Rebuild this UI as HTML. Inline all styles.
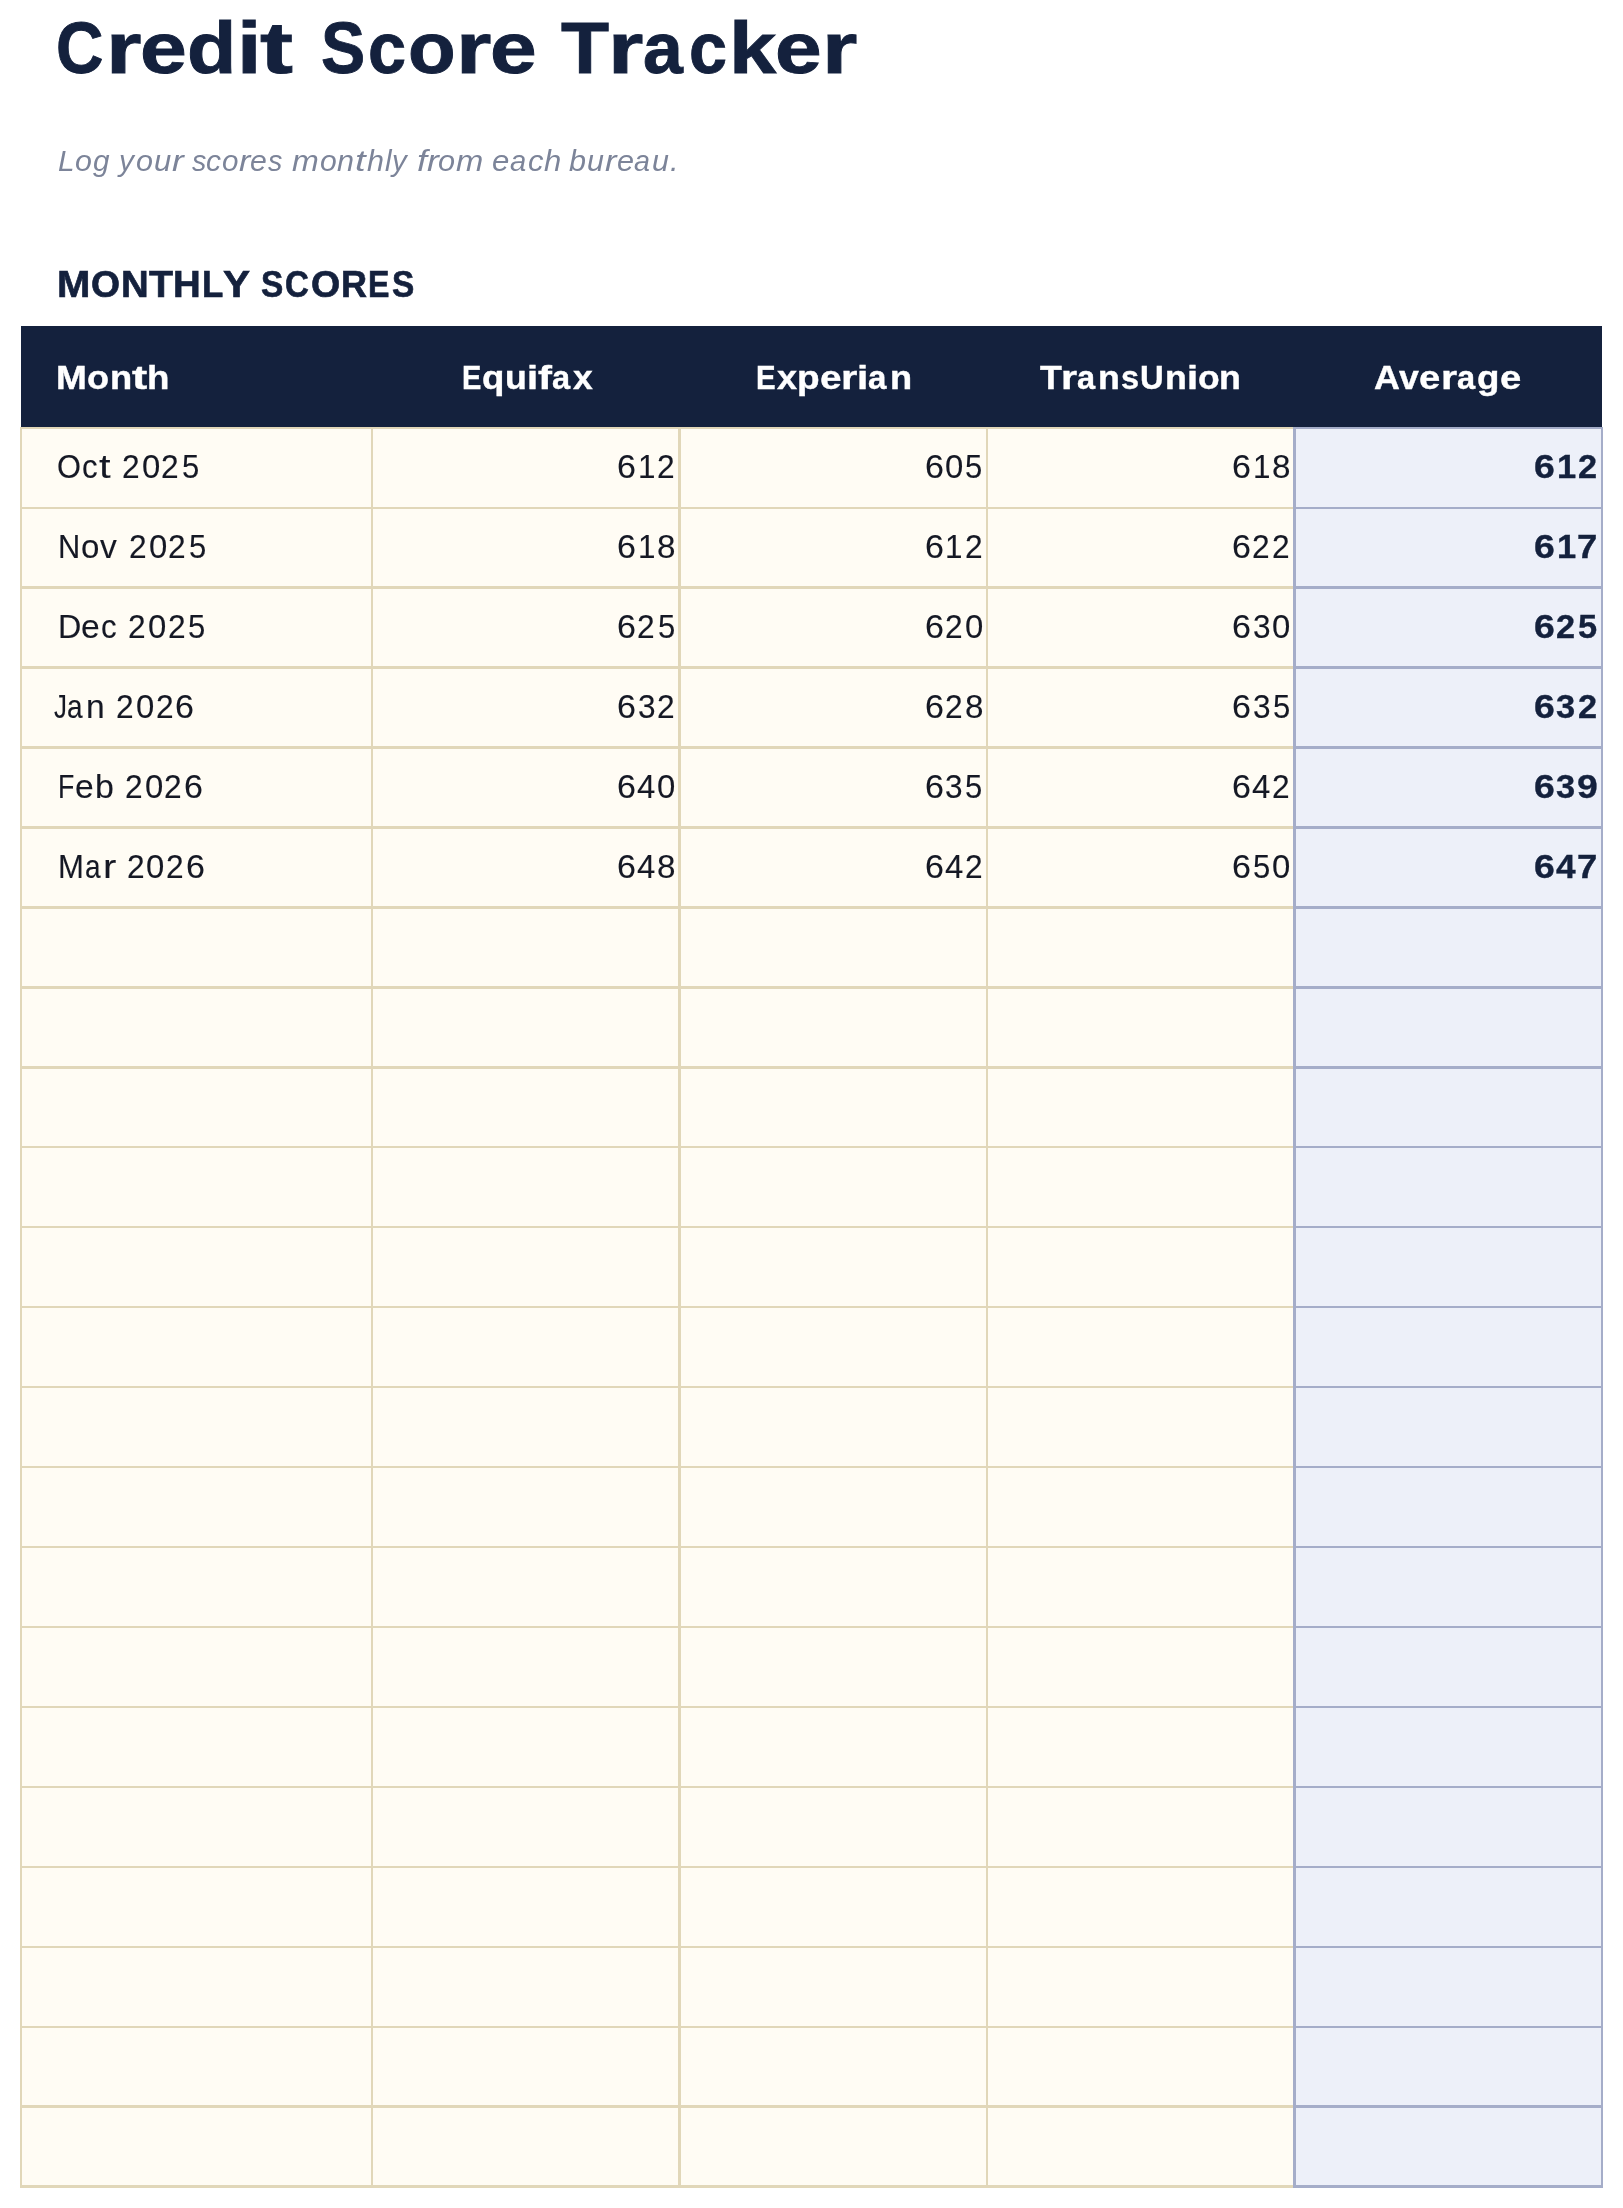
<!DOCTYPE html>
<html lang="en">
<head>
<meta charset="utf-8">
<title>Credit Score Tracker</title>
<style>
html,body{margin:0;padding:0;background:#fff;}
body{width:1623px;height:2208px;position:relative;overflow:hidden;font-family:"Liberation Sans", sans-serif;color:#151824;}
.t{position:absolute;white-space:nowrap;line-height:1;margin:0;padding:0;transform-origin:0 0;font-weight:normal;}
.t{word-spacing:-0.27783em;}
.g{display:inline-block;width:0;transform-origin:0 0;white-space:nowrap;}
.b{font-weight:bold;}
.i{font-style:italic;}
.r{transform-origin:100% 0;text-align:right;}
.c{transform-origin:50% 0;text-align:center;}
.box{position:absolute;}
.hdr{left:21px;top:326px;width:1581px;height:101px;background:#14213d;}
.cream{left:20px;top:427px;width:1275px;height:1760px;background:#fffcf4;}
.avg{left:1294px;top:427px;width:308px;height:1760px;background:#edf0f9;}
.lb{background:#e1d7b9;}
.la{background:#a5adc9;}
main{position:absolute;left:0;top:0;width:1623px;height:2208px;will-change:transform;}
</style>
</head>
<body>
<main>
<div class="box cream"></div>
<div class="box avg"></div>
<div class="box hdr"></div>
<div class="box lb" style="left:20px;top:427px;width:1273px;height:2px"></div>
<div class="box la" style="left:1293px;top:427px;width:310px;height:2px"></div>
<div class="box lb" style="left:20px;top:507px;width:1273px;height:2px"></div>
<div class="box la" style="left:1293px;top:507px;width:310px;height:2px"></div>
<div class="box lb" style="left:20px;top:586px;width:1273px;height:3px"></div>
<div class="box la" style="left:1293px;top:586px;width:310px;height:3px"></div>
<div class="box lb" style="left:20px;top:666px;width:1273px;height:3px"></div>
<div class="box la" style="left:1293px;top:666px;width:310px;height:3px"></div>
<div class="box lb" style="left:20px;top:746px;width:1273px;height:3px"></div>
<div class="box la" style="left:1293px;top:746px;width:310px;height:3px"></div>
<div class="box lb" style="left:20px;top:826px;width:1273px;height:3px"></div>
<div class="box la" style="left:1293px;top:826px;width:310px;height:3px"></div>
<div class="box lb" style="left:20px;top:906px;width:1273px;height:3px"></div>
<div class="box la" style="left:1293px;top:906px;width:310px;height:3px"></div>
<div class="box lb" style="left:20px;top:986px;width:1273px;height:3px"></div>
<div class="box la" style="left:1293px;top:986px;width:310px;height:3px"></div>
<div class="box lb" style="left:20px;top:1066px;width:1273px;height:3px"></div>
<div class="box la" style="left:1293px;top:1066px;width:310px;height:3px"></div>
<div class="box lb" style="left:20px;top:1146px;width:1273px;height:2px"></div>
<div class="box la" style="left:1293px;top:1146px;width:310px;height:2px"></div>
<div class="box lb" style="left:20px;top:1226px;width:1273px;height:2px"></div>
<div class="box la" style="left:1293px;top:1226px;width:310px;height:2px"></div>
<div class="box lb" style="left:20px;top:1306px;width:1273px;height:2px"></div>
<div class="box la" style="left:1293px;top:1306px;width:310px;height:2px"></div>
<div class="box lb" style="left:20px;top:1386px;width:1273px;height:2px"></div>
<div class="box la" style="left:1293px;top:1386px;width:310px;height:2px"></div>
<div class="box lb" style="left:20px;top:1466px;width:1273px;height:2px"></div>
<div class="box la" style="left:1293px;top:1466px;width:310px;height:2px"></div>
<div class="box lb" style="left:20px;top:1546px;width:1273px;height:2px"></div>
<div class="box la" style="left:1293px;top:1546px;width:310px;height:2px"></div>
<div class="box lb" style="left:20px;top:1626px;width:1273px;height:2px"></div>
<div class="box la" style="left:1293px;top:1626px;width:310px;height:2px"></div>
<div class="box lb" style="left:20px;top:1706px;width:1273px;height:2px"></div>
<div class="box la" style="left:1293px;top:1706px;width:310px;height:2px"></div>
<div class="box lb" style="left:20px;top:1786px;width:1273px;height:2px"></div>
<div class="box la" style="left:1293px;top:1786px;width:310px;height:2px"></div>
<div class="box lb" style="left:20px;top:1866px;width:1273px;height:2px"></div>
<div class="box la" style="left:1293px;top:1866px;width:310px;height:2px"></div>
<div class="box lb" style="left:20px;top:1946px;width:1273px;height:2px"></div>
<div class="box la" style="left:1293px;top:1946px;width:310px;height:2px"></div>
<div class="box lb" style="left:20px;top:2026px;width:1273px;height:2px"></div>
<div class="box la" style="left:1293px;top:2026px;width:310px;height:2px"></div>
<div class="box lb" style="left:20px;top:2105px;width:1273px;height:3px"></div>
<div class="box la" style="left:1293px;top:2105px;width:310px;height:3px"></div>
<div class="box lb" style="left:20px;top:2185px;width:1273px;height:3px"></div>
<div class="box la" style="left:1293px;top:2185px;width:310px;height:3px"></div>
<div class="box lb" style="left:20px;top:427px;width:2px;height:1761px"></div>
<div class="box lb" style="left:371px;top:427px;width:2px;height:1761px"></div>
<div class="box lb" style="left:678px;top:427px;width:3px;height:1761px"></div>
<div class="box lb" style="left:986px;top:427px;width:2px;height:1761px"></div>
<div class="box la" style="left:1293px;top:427px;width:3px;height:1761px"></div>
<div class="box la" style="left:1601px;top:427px;width:2px;height:1761px"></div>
<h1 class="t b" aria-label="Credit Score Tracker" style="left:0;top:12.04px;font-size:72.60px;color:#14213d;width:1623px;height:73px;-webkit-text-stroke:0.90px #14213d;"><span class="g" style="margin-left:56.328125px;transform:scaleX(0.9043)">C</span><span class="g" style="margin-left:49.859375px;transform:scaleX(1.2554)">r</span><span class="g" style="margin-left:33.96875px;transform:scaleX(1.1594)">e</span><span class="g" style="margin-left:47.046875px;transform:scaleX(1.1110)">d</span><span class="g" style="margin-left:49.421875px;transform:scaleX(1.2121)">i</span><span class="g" style="margin-left:23.765625px;transform:scaleX(1.3649)">t</span> <span class="g" style="margin-left:60.375px;transform:scaleX(0.9129)">S</span><span class="g" style="margin-left:46.9375px;transform:scaleX(0.9422)">c</span><span class="g" style="margin-left:40.546875px;transform:scaleX(1.0740)">o</span><span class="g" style="margin-left:47.359375px;transform:scaleX(1.2525)">r</span><span class="g" style="margin-left:33.890625px;transform:scaleX(1.1567)">e</span> <span class="g" style="margin-left:71.03125px;transform:scaleX(1.0840)">T</span><span class="g" style="margin-left:47.421875px;transform:scaleX(1.2515)">r</span><span class="g" style="margin-left:35.0625px;transform:scaleX(0.9867)">a</span><span class="g" style="margin-left:45.96875px;transform:scaleX(0.9414)">c</span><span class="g" style="margin-left:40.484375px;transform:scaleX(1.1702)">k</span><span class="g" style="margin-left:45.671875px;transform:scaleX(1.1558)">e</span><span class="g" style="margin-left:46.9375px;transform:scaleX(1.2515)">r</span></h1>
<p class="t i" aria-label="Log your scores monthly from each bureau." style="left:0;top:146.33px;font-size:29.50px;color:#7c8499;width:1623px;height:30px;"><span class="g" style="margin-left:58.484375px;transform:scaleX(1.0052)">L</span><span class="g" style="margin-left:16.453125px;transform:scaleX(1.0296)">o</span><span class="g" style="margin-left:18.109375px;transform:scaleX(1.0062)">g</span> <span class="g" style="margin-left:25.96875px;transform:scaleX(1.0102)">y</span><span class="g" style="margin-left:17.390625px;transform:scaleX(1.0338)">o</span><span class="g" style="margin-left:17.671875px;transform:scaleX(1.0503)">u</span><span class="g" style="margin-left:18.34375px;transform:scaleX(1.1933)">r</span> <span class="g" style="margin-left:19.421875px;transform:scaleX(0.9700)">s</span><span class="g" style="margin-left:14.59375px;transform:scaleX(1.0188)">c</span><span class="g" style="margin-left:15.390625px;transform:scaleX(1.0021)">o</span><span class="g" style="margin-left:17.1875px;transform:scaleX(1.1566)">r</span><span class="g" style="margin-left:11.34375px;transform:scaleX(1.0242)">e</span><span class="g" style="margin-left:17.1875px;transform:scaleX(0.9700)">s</span> <span class="g" style="margin-left:24.703125px;transform:scaleX(1.0890)">m</span><span class="g" style="margin-left:27.53125px;transform:scaleX(1.0191)">o</span><span class="g" style="margin-left:17.5625px;transform:scaleX(1.0344)">n</span><span class="g" style="margin-left:17.609375px;transform:scaleX(1.2946)">t</span><span class="g" style="margin-left:11.546875px;transform:scaleX(1.0355)">h</span><span class="g" style="margin-left:18.03125px;transform:scaleX(1.0012)">l</span><span class="g" style="margin-left:7.375px;transform:scaleX(0.9958)">y</span> <span class="g" style="margin-left:24.796875px;transform:scaleX(1.2190)">f</span><span class="g" style="margin-left:9.875px;transform:scaleX(1.1988)">r</span><span class="g" style="margin-left:11.796875px;transform:scaleX(1.0386)">o</span><span class="g" style="margin-left:17.875px;transform:scaleX(1.1097)">m</span> <span class="g" style="margin-left:35.875px;transform:scaleX(1.0569)">e</span><span class="g" style="margin-left:18.015625px;transform:scaleX(0.9892)">a</span><span class="g" style="margin-left:17.4375px;transform:scaleX(1.0514)">c</span><span class="g" style="margin-left:16.046875px;transform:scaleX(1.0507)">h</span> <span class="g" style="margin-left:25.75px;transform:scaleX(1.0350)">b</span><span class="g" style="margin-left:17.75px;transform:scaleX(1.0326)">u</span><span class="g" style="margin-left:18.03125px;transform:scaleX(1.1733)">r</span><span class="g" style="margin-left:11.5px;transform:scaleX(1.0389)">e</span><span class="g" style="margin-left:17.703125px;transform:scaleX(0.9724)">a</span><span class="g" style="margin-left:17.1875px;transform:scaleX(1.0326)">u</span><span class="g" style="margin-left:18.0625px;transform:scaleX(1.0516)">.</span></p>
<h2 class="t b" aria-label="MONTHLY SCORES" style="left:0;top:267.19px;font-size:36.40px;color:#14213d;width:1623px;height:36px;-webkit-text-stroke:0.65px #14213d;"><span class="g" style="margin-left:56.90625px;transform:scaleX(1.1006)">M</span><span class="g" style="margin-left:34.0625px;transform:scaleX(1.0252)">O</span><span class="g" style="margin-left:29.796875px;transform:scaleX(1.0550)">N</span><span class="g" style="margin-left:28.046875px;transform:scaleX(1.0830)">T</span><span class="g" style="margin-left:24.453125px;transform:scaleX(1.0550)">H</span><span class="g" style="margin-left:29.171875px;transform:scaleX(0.9577)">L</span><span class="g" style="margin-left:20.46875px;transform:scaleX(1.1141)">Y</span> <span class="g" style="margin-left:38.4375px;transform:scaleX(0.9178)">S</span><span class="g" style="margin-left:23.890625px;transform:scaleX(0.9071)">C</span><span class="g" style="margin-left:25.34375px;transform:scaleX(1.0324)">O</span><span class="g" style="margin-left:30.1875px;transform:scaleX(0.9906)">R</span><span class="g" style="margin-left:27.0625px;transform:scaleX(0.8828)">E</span><span class="g" style="margin-left:24.265625px;transform:scaleX(0.9178)">S</span></h2>
<div class="t b" aria-label="Month" style="left:0;top:361.47px;font-size:33.00px;color:#fff;width:1623px;height:33px;-webkit-text-stroke:0.40px #fff;"><span class="g" style="margin-left:56.015625px;transform:scaleX(1.1219)">M</span><span class="g" style="margin-left:31.28125px;transform:scaleX(1.0930)">o</span><span class="g" style="margin-left:22.265625px;transform:scaleX(1.1018)">n</span><span class="g" style="margin-left:22.3125px;transform:scaleX(1.3858)">t</span><span class="g" style="margin-left:15.53125px;transform:scaleX(1.1110)">h</span></div>
<div class="t b" aria-label="Equifax" style="left:0;top:361.47px;font-size:33.00px;color:#fff;width:1623px;height:33px;-webkit-text-stroke:0.40px #fff;"><span class="g" style="margin-left:461.84375px;transform:scaleX(0.8769)">E</span><span class="g" style="margin-left:20.359375px;transform:scaleX(1.1092)">q</span><span class="g" style="margin-left:22.765625px;transform:scaleX(1.0814)">u</span><span class="g" style="margin-left:21.921875px;transform:scaleX(1.2077)">i</span><span class="g" style="margin-left:10.78125px;transform:scaleX(1.2692)">f</span><span class="g" style="margin-left:14.140625px;transform:scaleX(0.9861)">a</span><span class="g" style="margin-left:21px;transform:scaleX(1.0765)">x</span></div>
<div class="t b" aria-label="Experian" style="left:0;top:361.47px;font-size:33.00px;color:#fff;width:1623px;height:33px;-webkit-text-stroke:0.40px #fff;"><span class="g" style="margin-left:755.640625px;transform:scaleX(0.8902)">E</span><span class="g" style="margin-left:21.015625px;transform:scaleX(1.0929)">x</span><span class="g" style="margin-left:20.515625px;transform:scaleX(1.1226)">p</span><span class="g" style="margin-left:22.375px;transform:scaleX(1.1726)">e</span><span class="g" style="margin-left:21.65625px;transform:scaleX(1.2698)">r</span><span class="g" style="margin-left:15.625px;transform:scaleX(1.2260)">i</span><span class="g" style="margin-left:11.4375px;transform:scaleX(1.0011)">a</span><span class="g" style="margin-left:21.359375px;transform:scaleX(1.0976)">n</span></div>
<div class="t b" aria-label="TransUnion" style="left:0;top:361.47px;font-size:33.00px;color:#fff;width:1623px;height:33px;-webkit-text-stroke:0.40px #fff;"><span class="g" style="margin-left:1039.828125px;transform:scaleX(1.0837)">T</span><span class="g" style="margin-left:21.546875px;transform:scaleX(1.2512)">r</span><span class="g" style="margin-left:15.921875px;transform:scaleX(0.9864)">a</span><span class="g" style="margin-left:21.0625px;transform:scaleX(1.0815)">n</span><span class="g" style="margin-left:22.5px;transform:scaleX(0.9815)">s</span><span class="g" style="margin-left:19.078125px;transform:scaleX(0.9933)">U</span><span class="g" style="margin-left:24.828125px;transform:scaleX(1.0815)">n</span><span class="g" style="margin-left:21.890625px;transform:scaleX(1.2080)">i</span><span class="g" style="margin-left:10.859375px;transform:scaleX(1.0729)">o</span><span class="g" style="margin-left:21.859375px;transform:scaleX(1.0815)">n</span></div>
<div class="t b" aria-label="Average" style="left:0;top:361.47px;font-size:33.00px;color:#fff;width:1623px;height:33px;-webkit-text-stroke:0.40px #fff;"><span class="g" style="margin-left:1373.859375px;transform:scaleX(1.0838)">A</span><span class="g" style="margin-left:25.390625px;transform:scaleX(1.0797)">v</span><span class="g" style="margin-left:19.953125px;transform:scaleX(1.1572)">e</span><span class="g" style="margin-left:21.359375px;transform:scaleX(1.2530)">r</span><span class="g" style="margin-left:15.953125px;transform:scaleX(0.9879)">a</span><span class="g" style="margin-left:20.703125px;transform:scaleX(1.1111)">g</span><span class="g" style="margin-left:22.421875px;transform:scaleX(1.1572)">e</span></div>
<div class="t " aria-label="Oct 2025" style="left:0;top:449.90px;font-size:33.20px;color:#151824;width:1623px;height:33px;-webkit-text-stroke:0.12px #151824;"><span class="g" style="margin-left:57.390625px;transform:scaleX(0.9288)">O</span><span class="g" style="margin-left:24.65625px;transform:scaleX(0.9419)">c</span><span class="g" style="margin-left:16.953125px;transform:scaleX(1.2555)">t</span> <span class="g" style="margin-left:22.640625px;transform:scaleX(0.9552)">2</span><span class="g" style="margin-left:19.921875px;transform:scaleX(0.9908)">0</span><span class="g" style="margin-left:19.796875px;transform:scaleX(0.9552)">2</span><span class="g" style="margin-left:20.3125px;transform:scaleX(0.9348)">5</span></div>
<div class="t " aria-label="612" style="left:0;top:449.90px;font-size:33.20px;color:#151824;width:1623px;height:33px;-webkit-text-stroke:0.12px #151824;"><span class="g" style="margin-left:617.1875px;transform:scaleX(1.0252)">6</span><span class="g" style="margin-left:20.4375px;transform:scaleX(0.9463)">1</span><span class="g" style="margin-left:19.5px;transform:scaleX(0.9552)">2</span></div>
<div class="t " aria-label="605" style="left:0;top:449.90px;font-size:33.20px;color:#151824;width:1623px;height:33px;-webkit-text-stroke:0.12px #151824;"><span class="g" style="margin-left:924.796875px;transform:scaleX(1.0252)">6</span><span class="g" style="margin-left:20.15625px;transform:scaleX(0.9908)">0</span><span class="g" style="margin-left:20.25px;transform:scaleX(0.9348)">5</span></div>
<div class="t " aria-label="618" style="left:0;top:449.90px;font-size:33.20px;color:#151824;width:1623px;height:33px;-webkit-text-stroke:0.12px #151824;"><span class="g" style="margin-left:1232.1875px;transform:scaleX(1.0252)">6</span><span class="g" style="margin-left:20.4375px;transform:scaleX(0.9463)">1</span><span class="g" style="margin-left:19.5px;transform:scaleX(1.0007)">8</span></div>
<div class="t b" aria-label="612" style="left:0;top:449.90px;font-size:33.20px;color:#14213d;width:1623px;height:33px;-webkit-text-stroke:0.35px #14213d;"><span class="g" style="margin-left:1534.03125px;transform:scaleX(1.1271)">6</span><span class="g" style="margin-left:22.5px;transform:scaleX(1.0376)">1</span><span class="g" style="margin-left:21.625px;transform:scaleX(1.0333)">2</span></div>
<div class="t " aria-label="Nov 2025" style="left:0;top:529.90px;font-size:33.20px;color:#151824;width:1623px;height:33px;-webkit-text-stroke:0.12px #151824;"><span class="g" style="margin-left:57.625px;transform:scaleX(0.9280)">N</span><span class="g" style="margin-left:23.140625px;transform:scaleX(0.9984)">o</span><span class="g" style="margin-left:19.578125px;transform:scaleX(1.0130)">v</span> <span class="g" style="margin-left:28.25px;transform:scaleX(0.9552)">2</span><span class="g" style="margin-left:19.921875px;transform:scaleX(0.9908)">0</span><span class="g" style="margin-left:19.78125px;transform:scaleX(0.9552)">2</span><span class="g" style="margin-left:20.3125px;transform:scaleX(0.9348)">5</span></div>
<div class="t " aria-label="618" style="left:0;top:529.90px;font-size:33.20px;color:#151824;width:1623px;height:33px;-webkit-text-stroke:0.12px #151824;"><span class="g" style="margin-left:617.1875px;transform:scaleX(1.0252)">6</span><span class="g" style="margin-left:20.4375px;transform:scaleX(0.9463)">1</span><span class="g" style="margin-left:19.5px;transform:scaleX(1.0007)">8</span></div>
<div class="t " aria-label="612" style="left:0;top:529.90px;font-size:33.20px;color:#151824;width:1623px;height:33px;-webkit-text-stroke:0.12px #151824;"><span class="g" style="margin-left:924.796875px;transform:scaleX(1.0252)">6</span><span class="g" style="margin-left:20.421875px;transform:scaleX(0.9463)">1</span><span class="g" style="margin-left:19.515625px;transform:scaleX(0.9552)">2</span></div>
<div class="t " aria-label="622" style="left:0;top:529.90px;font-size:33.20px;color:#151824;width:1623px;height:33px;-webkit-text-stroke:0.12px #151824;"><span class="g" style="margin-left:1232.1875px;transform:scaleX(1.0252)">6</span><span class="g" style="margin-left:20.09375px;transform:scaleX(0.9552)">2</span><span class="g" style="margin-left:19.84375px;transform:scaleX(0.9552)">2</span></div>
<div class="t b" aria-label="617" style="left:0;top:529.90px;font-size:33.20px;color:#14213d;width:1623px;height:33px;-webkit-text-stroke:0.35px #14213d;"><span class="g" style="margin-left:1534.03125px;transform:scaleX(1.1271)">6</span><span class="g" style="margin-left:22.5px;transform:scaleX(1.0376)">1</span><span class="g" style="margin-left:20.875px;transform:scaleX(1.0997)">7</span></div>
<div class="t " aria-label="Dec 2025" style="left:0;top:609.90px;font-size:33.20px;color:#151824;width:1623px;height:33px;-webkit-text-stroke:0.12px #151824;"><span class="g" style="margin-left:57.5px;transform:scaleX(0.9723)">D</span><span class="g" style="margin-left:23.921875px;transform:scaleX(1.0147)">e</span><span class="g" style="margin-left:19.296875px;transform:scaleX(0.9419)">c</span> <span class="g" style="margin-left:27.359375px;transform:scaleX(0.9552)">2</span><span class="g" style="margin-left:19.921875px;transform:scaleX(0.9908)">0</span><span class="g" style="margin-left:19.765625px;transform:scaleX(0.9552)">2</span><span class="g" style="margin-left:20.328125px;transform:scaleX(0.9348)">5</span></div>
<div class="t " aria-label="625" style="left:0;top:609.90px;font-size:33.20px;color:#151824;width:1623px;height:33px;-webkit-text-stroke:0.12px #151824;"><span class="g" style="margin-left:617.1875px;transform:scaleX(1.0252)">6</span><span class="g" style="margin-left:20.09375px;transform:scaleX(0.9552)">2</span><span class="g" style="margin-left:20.328125px;transform:scaleX(0.9348)">5</span></div>
<div class="t " aria-label="620" style="left:0;top:609.90px;font-size:33.20px;color:#151824;width:1623px;height:33px;-webkit-text-stroke:0.12px #151824;"><span class="g" style="margin-left:924.796875px;transform:scaleX(1.0252)">6</span><span class="g" style="margin-left:20.078125px;transform:scaleX(0.9552)">2</span><span class="g" style="margin-left:19.921875px;transform:scaleX(0.9908)">0</span></div>
<div class="t " aria-label="630" style="left:0;top:609.90px;font-size:33.20px;color:#151824;width:1623px;height:33px;-webkit-text-stroke:0.12px #151824;"><span class="g" style="margin-left:1232.1875px;transform:scaleX(1.0252)">6</span><span class="g" style="margin-left:20.578125px;transform:scaleX(0.9516)">3</span><span class="g" style="margin-left:19.4375px;transform:scaleX(0.9908)">0</span></div>
<div class="t b" aria-label="625" style="left:0;top:609.90px;font-size:33.20px;color:#14213d;width:1623px;height:33px;-webkit-text-stroke:0.35px #14213d;"><span class="g" style="margin-left:1534.03125px;transform:scaleX(1.1271)">6</span><span class="g" style="margin-left:22.421875px;transform:scaleX(1.0333)">2</span><span class="g" style="margin-left:21.78125px;transform:scaleX(1.0360)">5</span></div>
<div class="t " aria-label="Jan 2026" style="left:0;top:689.90px;font-size:33.20px;color:#151824;width:1623px;height:33px;-webkit-text-stroke:0.12px #151824;"><span class="g" style="margin-left:53.828125px;transform:scaleX(0.7800)">J</span><span class="g" style="margin-left:13.171875px;transform:scaleX(0.8439)">a</span><span class="g" style="margin-left:19.015625px;transform:scaleX(1.0126)">n</span> <span class="g" style="margin-left:29.78125px;transform:scaleX(0.9552)">2</span><span class="g" style="margin-left:19.921875px;transform:scaleX(0.9908)">0</span><span class="g" style="margin-left:19.78125px;transform:scaleX(0.9552)">2</span><span class="g" style="margin-left:19.609375px;transform:scaleX(1.0252)">6</span></div>
<div class="t " aria-label="632" style="left:0;top:689.90px;font-size:33.20px;color:#151824;width:1623px;height:33px;-webkit-text-stroke:0.12px #151824;"><span class="g" style="margin-left:617.1875px;transform:scaleX(1.0252)">6</span><span class="g" style="margin-left:20.578125px;transform:scaleX(0.9516)">3</span><span class="g" style="margin-left:19.359375px;transform:scaleX(0.9552)">2</span></div>
<div class="t " aria-label="628" style="left:0;top:689.90px;font-size:33.20px;color:#151824;width:1623px;height:33px;-webkit-text-stroke:0.12px #151824;"><span class="g" style="margin-left:924.796875px;transform:scaleX(1.0252)">6</span><span class="g" style="margin-left:20.078125px;transform:scaleX(0.9552)">2</span><span class="g" style="margin-left:19.84375px;transform:scaleX(1.0007)">8</span></div>
<div class="t " aria-label="635" style="left:0;top:689.90px;font-size:33.20px;color:#151824;width:1623px;height:33px;-webkit-text-stroke:0.12px #151824;"><span class="g" style="margin-left:1232.1875px;transform:scaleX(1.0252)">6</span><span class="g" style="margin-left:20.578125px;transform:scaleX(0.9516)">3</span><span class="g" style="margin-left:19.84375px;transform:scaleX(0.9348)">5</span></div>
<div class="t b" aria-label="632" style="left:0;top:689.90px;font-size:33.20px;color:#14213d;width:1623px;height:33px;-webkit-text-stroke:0.35px #14213d;"><span class="g" style="margin-left:1534.03125px;transform:scaleX(1.1271)">6</span><span class="g" style="margin-left:22.4375px;transform:scaleX(1.0379)">3</span><span class="g" style="margin-left:21.6875px;transform:scaleX(1.0333)">2</span></div>
<div class="t " aria-label="Feb 2026" style="left:0;top:769.90px;font-size:33.20px;color:#151824;width:1623px;height:33px;-webkit-text-stroke:0.12px #151824;"><span class="g" style="margin-left:57.953125px;transform:scaleX(0.8062)">F</span><span class="g" style="margin-left:17.390625px;transform:scaleX(1.0147)">e</span><span class="g" style="margin-left:19.53125px;transform:scaleX(1.0222)">b</span> <span class="g" style="margin-left:29.78125px;transform:scaleX(0.9552)">2</span><span class="g" style="margin-left:19.90625px;transform:scaleX(0.9908)">0</span><span class="g" style="margin-left:19.796875px;transform:scaleX(0.9552)">2</span><span class="g" style="margin-left:19.59375px;transform:scaleX(1.0252)">6</span></div>
<div class="t " aria-label="640" style="left:0;top:769.90px;font-size:33.20px;color:#151824;width:1623px;height:33px;-webkit-text-stroke:0.12px #151824;"><span class="g" style="margin-left:617.1875px;transform:scaleX(1.0252)">6</span><span class="g" style="margin-left:20.171875px;transform:scaleX(0.9910)">4</span><span class="g" style="margin-left:19.84375px;transform:scaleX(0.9908)">0</span></div>
<div class="t " aria-label="635" style="left:0;top:769.90px;font-size:33.20px;color:#151824;width:1623px;height:33px;-webkit-text-stroke:0.12px #151824;"><span class="g" style="margin-left:924.796875px;transform:scaleX(1.0252)">6</span><span class="g" style="margin-left:20.5625px;transform:scaleX(0.9516)">3</span><span class="g" style="margin-left:19.84375px;transform:scaleX(0.9348)">5</span></div>
<div class="t " aria-label="642" style="left:0;top:769.90px;font-size:33.20px;color:#151824;width:1623px;height:33px;-webkit-text-stroke:0.12px #151824;"><span class="g" style="margin-left:1232.1875px;transform:scaleX(1.0252)">6</span><span class="g" style="margin-left:20.171875px;transform:scaleX(0.9910)">4</span><span class="g" style="margin-left:19.765625px;transform:scaleX(0.9552)">2</span></div>
<div class="t b" aria-label="639" style="left:0;top:769.90px;font-size:33.20px;color:#14213d;width:1623px;height:33px;-webkit-text-stroke:0.35px #14213d;"><span class="g" style="margin-left:1534.03125px;transform:scaleX(1.1271)">6</span><span class="g" style="margin-left:22.4375px;transform:scaleX(1.0379)">3</span><span class="g" style="margin-left:20.734375px;transform:scaleX(1.1248)">9</span></div>
<div class="t " aria-label="Mar 2026" style="left:0;top:849.90px;font-size:33.20px;color:#151824;width:1623px;height:33px;-webkit-text-stroke:0.12px #151824;"><span class="g" style="margin-left:57.59375px;transform:scaleX(0.9377)">M</span><span class="g" style="margin-left:27.109375px;transform:scaleX(0.8439)">a</span><span class="g" style="margin-left:18.609375px;transform:scaleX(1.2042)">r</span> <span class="g" style="margin-left:23.265625px;transform:scaleX(0.9552)">2</span><span class="g" style="margin-left:19.90625px;transform:scaleX(0.9908)">0</span><span class="g" style="margin-left:19.78125px;transform:scaleX(0.9552)">2</span><span class="g" style="margin-left:19.609375px;transform:scaleX(1.0252)">6</span></div>
<div class="t " aria-label="648" style="left:0;top:849.90px;font-size:33.20px;color:#151824;width:1623px;height:33px;-webkit-text-stroke:0.12px #151824;"><span class="g" style="margin-left:617.1875px;transform:scaleX(1.0252)">6</span><span class="g" style="margin-left:20.171875px;transform:scaleX(0.9910)">4</span><span class="g" style="margin-left:19.765625px;transform:scaleX(1.0007)">8</span></div>
<div class="t " aria-label="642" style="left:0;top:849.90px;font-size:33.20px;color:#151824;width:1623px;height:33px;-webkit-text-stroke:0.12px #151824;"><span class="g" style="margin-left:924.796875px;transform:scaleX(1.0252)">6</span><span class="g" style="margin-left:20.171875px;transform:scaleX(0.9910)">4</span><span class="g" style="margin-left:19.765625px;transform:scaleX(0.9552)">2</span></div>
<div class="t " aria-label="650" style="left:0;top:849.90px;font-size:33.20px;color:#151824;width:1623px;height:33px;-webkit-text-stroke:0.12px #151824;"><span class="g" style="margin-left:1232.1875px;transform:scaleX(1.0252)">6</span><span class="g" style="margin-left:20.5625px;transform:scaleX(0.9348)">5</span><span class="g" style="margin-left:19.453125px;transform:scaleX(0.9908)">0</span></div>
<div class="t b" aria-label="647" style="left:0;top:849.90px;font-size:33.20px;color:#14213d;width:1623px;height:33px;-webkit-text-stroke:0.35px #14213d;"><span class="g" style="margin-left:1534.03125px;transform:scaleX(1.1271)">6</span><span class="g" style="margin-left:22px;transform:scaleX(1.0616)">4</span><span class="g" style="margin-left:21.375px;transform:scaleX(1.0997)">7</span></div>
</main>
</body>
</html>
